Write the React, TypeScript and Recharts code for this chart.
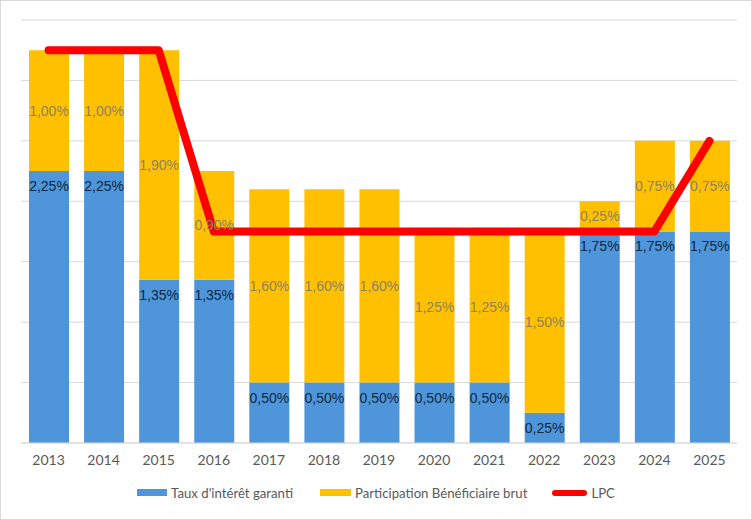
import React from "react";
import { Bar, CartesianGrid, ComposedChart, LabelList, Legend, Line, XAxis, YAxis } from "recharts";

const years = ["2013", "2014", "2015", "2016", "2017", "2018", "2019", "2020", "2021", "2022", "2023", "2024", "2025"];
const tauxGaranti = [2.25, 2.25, 1.35, 1.35, 0.5, 0.5, 0.5, 0.5, 0.5, 0.25, 1.75, 1.75, 1.75];
const participation = [1.0, 1.0, 1.9, 0.9, 1.6, 1.6, 1.6, 1.25, 1.25, 1.5, 0.25, 0.75, 0.75];
const lpc = [3.25, 3.25, 3.25, 1.75, 1.75, 1.75, 1.75, 1.75, 1.75, 1.75, 1.75, 1.75, 2.5];
const yTicks = [0, 0.5, 1, 1.5, 2, 2.5, 3, 3.5];

const data = years.map((year, i) => ({
  year,
  taux: tauxGaranti[i],
  part: participation[i],
  lpc: lpc[i],
}));

const BLUE = "#4e95d9";
const YELLOW = "#ffc000";
const RED = "#ff0000";
const FONT = "Lato, 'Open Sans', sans-serif";
const LABEL_FONT = "'Liberation Sans', Arial, sans-serif";

const pct = (v: any) => `${Number(v).toFixed(2).replace(".", ",")}%`;

function ChartLegend() {
  const item = (swatch: React.ReactNode, text: string, gap: number) => (
    <span style={{ display: "inline-flex", alignItems: "center", marginRight: gap }}>
      {swatch}
      <span style={{ marginLeft: 4 }}>{text}</span>
    </span>
  );
  return (
    <div style={{ fontFamily: FONT, fontSize: 13.2, color: "#595959", textAlign: "center", whiteSpace: "nowrap" }}>
      {item(<span style={{ display: "inline-block", width: 30, height: 7, background: BLUE }} />, "Taux d'intérêt garanti", 27)}
      {item(<span style={{ display: "inline-block", width: 31, height: 7, background: YELLOW }} />, "Participation Bénéficiaire brut", 25)}
      {item(<span style={{ display: "inline-block", width: 35, height: 6, borderRadius: 3, background: RED }} />, "LPC", 0)}
    </div>
  );
}

export default function App() {
  return (
    <div style={{ position: "absolute", top: 0, left: 0, width: 752, height: 520, boxSizing: "border-box", border: "1px solid #d9d9d9", background: "#fff" }}>
      <style>{"body{margin:0}"}</style>
      <ComposedChart
        width={750}
        height={518}
        data={data}
        margin={{ top: 19, right: 14, left: 20, bottom: 46 }}
        barGap={0}
      >
        <CartesianGrid vertical={false} stroke="#d9d9d9" />
        <XAxis
          dataKey="year"
          height={30}
          tickLine={false}
          axisLine={{ stroke: "#d9d9d9" }}
          tick={{ fill: "#595959", fontSize: 14, fontFamily: FONT }}
          dy={4}
        />
        <YAxis hide domain={[0, 3.5]} ticks={yTicks} />
        <Legend
          layout="horizontal"
          verticalAlign="middle"
          align="center"
          wrapperStyle={{ top: 482, left: 0, width: 750 }}
          content={() => <ChartLegend />}
        />
        <Bar dataKey="taux" name="Taux d'intérêt garanti" stackId="a" fill={BLUE} barSize={40} isAnimationActive={false}>
          <LabelList dataKey="taux" position="insideTop" offset={10} formatter={pct} fill="#0e2841" fontSize={14} fontFamily={LABEL_FONT} />
        </Bar>
        <Bar dataKey="part" name="Participation Bénéficiaire brut" stackId="a" fill={YELLOW} barSize={40} isAnimationActive={false}>
          <LabelList dataKey="part" position="center" formatter={pct} fill="#8c8364" fontSize={14} fontFamily={LABEL_FONT} />
        </Bar>
        <Line
          dataKey="lpc"
          name="LPC"
          type="linear"
          stroke={RED}
          strokeWidth={8}
          strokeLinecap="round"
          strokeLinejoin="round"
          dot={false}
          activeDot={false}
          isAnimationActive={false}
        />
      </ComposedChart>
    </div>
  );
}
